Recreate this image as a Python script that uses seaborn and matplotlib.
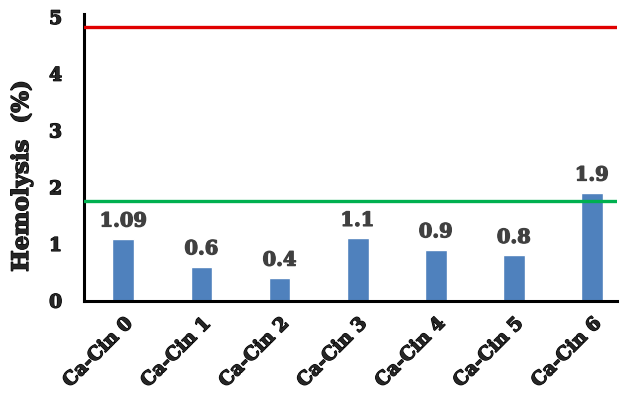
import pandas as pd
import seaborn as sns
import matplotlib.pyplot as plt
import matplotlib.patheffects as pe

# values
samples = ['Ca-Cin 0', 'Ca-Cin 1', 'Ca-Cin 2', 'Ca-Cin 3', 'Ca-Cin 4', 'Ca-Cin 5', 'Ca-Cin 6']
hemolysis = [1.09, 0.6, 0.4, 1.1, 0.9, 0.8, 1.9]
value_labels = ['1.09', '0.6', '0.4', '1.1', '0.9', '0.8', '1.9']
red_limit = 4.82
green_limit = 1.76
y_ticks = [0, 1, 2, 3, 4, 5]

df = pd.DataFrame({'sample': samples, 'hemolysis': hemolysis})

sns.set_style('white')
plt.rcParams['font.family'] = ['DejaVu Serif']
plt.rcParams['font.weight'] = 'bold'

# the reference uses a very heavy face, thicken the glyphs a bit
heavy_black = [pe.withStroke(linewidth=0.9, foreground='black')]
heavy_grey = [pe.withStroke(linewidth=0.9, foreground='#404040')]

fig = plt.figure(figsize=(6.2, 3.93), dpi=100)
ax = fig.add_axes([0.136, 0.235, 0.859, 0.729])

sns.barplot(x='sample', y='hemolysis', data=df, color='#4F81BD',
            width=0.28, saturation=1, ax=ax)

ax.axhline(red_limit, color='#E00000', lw=2.4, zorder=3)
ax.axhline(green_limit, color='#00B050', lw=2.4, zorder=3)

# value labels above bars
for i, (v, lab) in enumerate(zip(hemolysis, value_labels)):
    ax.annotate(lab, (i, v), xytext=(0, 6), textcoords='offset points',
                ha='center', va='bottom', fontsize=14, fontweight='bold',
                color='#404040', path_effects=heavy_grey)

ax.set_xlim(-0.5, 6.32)
ax.set_ylim(0, 5.05)
ax.set_yticks(y_ticks)
ax.set_yticklabels([str(t) for t in y_ticks], fontsize=13.5, fontweight='bold')
ax.set_xticks(range(len(samples)))
ax.set_xticklabels(samples, rotation=45, ha='right', rotation_mode='anchor',
                   fontsize=13.5, fontweight='bold')
ax.tick_params(axis='y', length=0, pad=16)
ax.tick_params(axis='x', length=0, pad=10)
for t in ax.get_xticklabels() + ax.get_yticklabels():
    t.set_path_effects(heavy_black)
ax.set_xlabel('')
ax.set_ylabel('')

for side in ['top', 'right']:
    ax.spines[side].set_visible(False)
for side in ['left', 'bottom']:
    ax.spines[side].set_color('black')
    ax.spines[side].set_linewidth(2.2)

fig.text(22 / 620, 1 - 176 / 393, 'Hemolysis  (%)', rotation=90,
         ha='center', va='center', fontsize=16.5, fontweight='bold',
         path_effects=heavy_black)

fig.savefig('out.png', dpi=100)
